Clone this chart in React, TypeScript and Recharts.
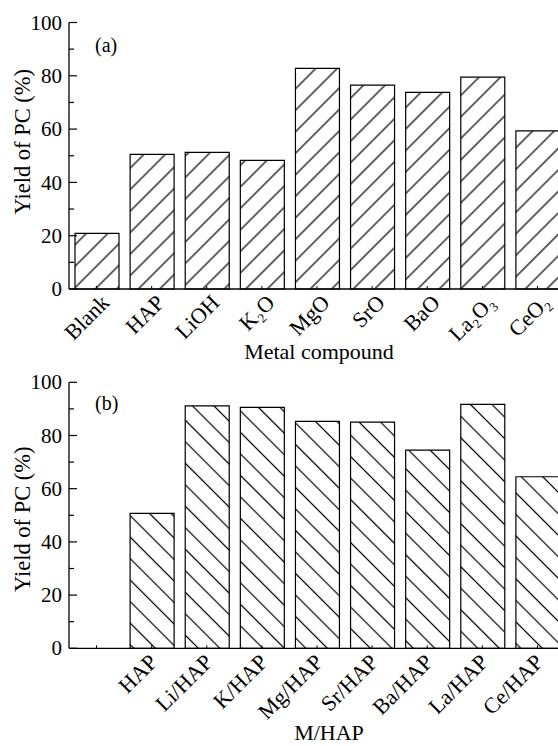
import { BarChart, Bar, XAxis, YAxis } from "recharts"

// panel (a): plain metal compounds
const COMPOUNDS = ["Blank", "HAP", "LiOH", "K2O", "MgO", "SrO", "BaO", "La2O3", "CeO2"]
const COMPOUND_YIELD = [20.9, 50.5, 51.3, 48.3, 82.8, 76.5, 73.8, 79.5, 59.3]

// panel (b): metal-loaded HAP (first slot left empty)
const CATALYSTS = ["", "HAP", "Li/HAP", "K/HAP", "Mg/HAP", "Sr/HAP", "Ba/HAP", "La/HAP", "Ce/HAP"]
const CATALYST_YIELD = [null, 50.7, 91.1, 90.6, 85.3, 85.0, 74.5, 91.7, 64.5]

const Y_TICKS = [0, 10, 20, 30, 40, 50, 60, 70, 80, 90, 100]
const Y_TITLE = "Yield of PC (%)"

const FONT = "'Liberation Serif', 'Times New Roman', serif"
const SUBS = "₀₁₂₃₄₅₆₇₈₉"

const dataA = COMPOUNDS.map((name, i) => ({ name, value: COMPOUND_YIELD[i] }))
const dataB = CATALYSTS.map((name, i) => ({ name, value: CATALYST_YIELD[i] }))

// K2O -> K₂O
const formula = (v: any) => String(v ?? "").replace(/\d/g, (d) => SUBS[Number(d)])

function YTick({ x, y, payload }: any) {
  const v = payload.value
  const major = v % 20 === 0
  return (
    <g>
      <line x1={x + 7} x2={x + 7 + (major ? 8 : 5)} y1={y} y2={y} stroke="#000" strokeWidth={1.2} />
      {major && (
        <text x={x} y={y} dy="0.34em" textAnchor="end" fontSize={21} fontFamily={FONT} fill="#000">
          {v}
        </text>
      )}
    </g>
  )
}

const topTick = (props: any) => {
  const { x, y, payload } = props
  const half = payload.offset || 27.5
  return (
    <g>
      <line x1={x} x2={x} y1={y} y2={y + 3} stroke="#000" strokeWidth={1} />
      <line x1={x + half} x2={x + half} y1={y} y2={y + 3} stroke="#000" strokeWidth={1} />
    </g>
  )
}

const yTitle = (dy: number) => (props: any) => {
  const vb = props.viewBox || { x: 0, y: 0, height: 0 }
  const cx = vb.x + 22.5
  const cy = vb.y + vb.height / 2 + dy
  return (
    <text
      transform={`translate(${cx},${cy}) rotate(-90)`}
      dy="0.34em"
      textAnchor="middle"
      fontSize={22.5}
      fontFamily={FONT}
      fill="#000"
    >
      {Y_TITLE}
    </text>
  )
}

const xTitle = (text: string, dx: number, fromBottom: number) => (props: any) => {
  const vb = props.viewBox || { x: 0, y: 0, width: 0, height: 0 }
  return (
    <text
      x={vb.x + vb.width / 2 + dx}
      y={vb.y + vb.height - fromBottom}
      textAnchor="middle"
      fontSize={22}
      fontFamily={FONT}
      fill="#000"
    >
      {text}
    </text>
  )
}

// rotated category labels; baseline end sits just right of the bar centre
const catTick = (dx: number, dy: number) => ({
  angle: -45,
  textAnchor: "end",
  verticalAnchor: "start",
  dx,
  dy,
  fontSize: 22,
  fontFamily: FONT,
  fill: "#000",
})

const panelTag: React.CSSProperties = {
  position: "absolute",
  left: 95,
  fontFamily: FONT,
  fontSize: 20,
  lineHeight: "20px",
  color: "#000",
}

export default function App() {
  return (
    <div
      style={{
        position: "absolute",
        left: 0,
        top: 0,
        width: 558,
        height: 746,
        overflow: "hidden",
        background: "#fff",
      }}
    >
      {/* (a) */}
      <div style={{ position: "absolute", left: 0, top: 0 }}>
        <BarChart width={570} height={370} data={dataA} margin={{ top: 22.5, right: 5, bottom: 0, left: 0 }}>
          <defs>
            <pattern
              id="hatchA"
              patternUnits="userSpaceOnUse"
              width={15.2}
              height={10}
              patternTransform="rotate(45)"
            >
              <line x1={13.3} y1={0} x2={13.3} y2={10} stroke="#000" strokeWidth={1.2} />
            </pattern>
          </defs>
          <XAxis
            dataKey="name"
            interval={0}
            height={81}
            angle={-45}
            tickSize={-3}
            tickMargin={0}
            tickLine={{ stroke: "#000" }}
            tickFormatter={formula}
            axisLine={{ stroke: "#000", strokeWidth: 1.3 }}
            tick={catTick(3, 7)}
            label={xTitle("Metal compound", 2, 11)}
          />
          <XAxis
            xAxisId="top"
            orientation="top"
            dataKey="name"
            interval={0}
            height={0}
            tickSize={0}
            tickMargin={0}
            axisLine={{ stroke: "#000", strokeWidth: 1.3 }}
            tick={topTick}
          />
          <YAxis
            domain={[0, 100]}
            ticks={Y_TICKS}
            interval={0}
            width={69}
            tickSize={0}
            tickMargin={7}
            axisLine={{ stroke: "#000", strokeWidth: 1.3 }}
            tick={YTick}
            label={yTitle(-14)}
          />
          <Bar
            dataKey="value"
            barSize={44}
            fill="url(#hatchA)"
            stroke="#000"
            strokeWidth={1.2}
            isAnimationActive={false}
          />
        </BarChart>
        <div style={{ ...panelTag, top: 35 }}>(a)</div>
      </div>

      {/* (b) */}
      <div style={{ position: "absolute", left: 0, top: 370 }}>
        <BarChart width={570} height={376} data={dataB} margin={{ top: 12.3, right: 5, bottom: 0, left: 0 }}>
          <defs>
            <pattern
              id="hatchB"
              patternUnits="userSpaceOnUse"
              width={15.2}
              height={10}
              patternTransform="rotate(-45)"
            >
              <line x1={4.3} y1={0} x2={4.3} y2={10} stroke="#000" strokeWidth={1.2} />
            </pattern>
          </defs>
          <XAxis
            dataKey="name"
            interval={0}
            height={97.7}
            angle={-45}
            tickSize={-3}
            tickMargin={0}
            tickLine={{ stroke: "#000" }}
            axisLine={{ stroke: "#000", strokeWidth: 1.3 }}
            tick={catTick(-4, 7)}
            label={xTitle("M/HAP", 12, 6)}
          />
          <XAxis
            xAxisId="top"
            orientation="top"
            dataKey="name"
            interval={0}
            height={0}
            tickSize={0}
            tickMargin={0}
            axisLine={{ stroke: "#808080", strokeWidth: 1.6 }}
            tick={false}
          />
          <YAxis
            domain={[0, 100]}
            ticks={Y_TICKS}
            interval={0}
            width={69}
            tickSize={0}
            tickMargin={7}
            axisLine={{ stroke: "#000", strokeWidth: 1.3 }}
            tick={YTick}
            label={yTitle(4)}
          />
          <Bar
            dataKey="value"
            barSize={44}
            fill="url(#hatchB)"
            stroke="#000"
            strokeWidth={1.2}
            isAnimationActive={false}
          />
        </BarChart>
        <div style={{ ...panelTag, top: 23 }}>(b)</div>
      </div>
    </div>
  )
}
